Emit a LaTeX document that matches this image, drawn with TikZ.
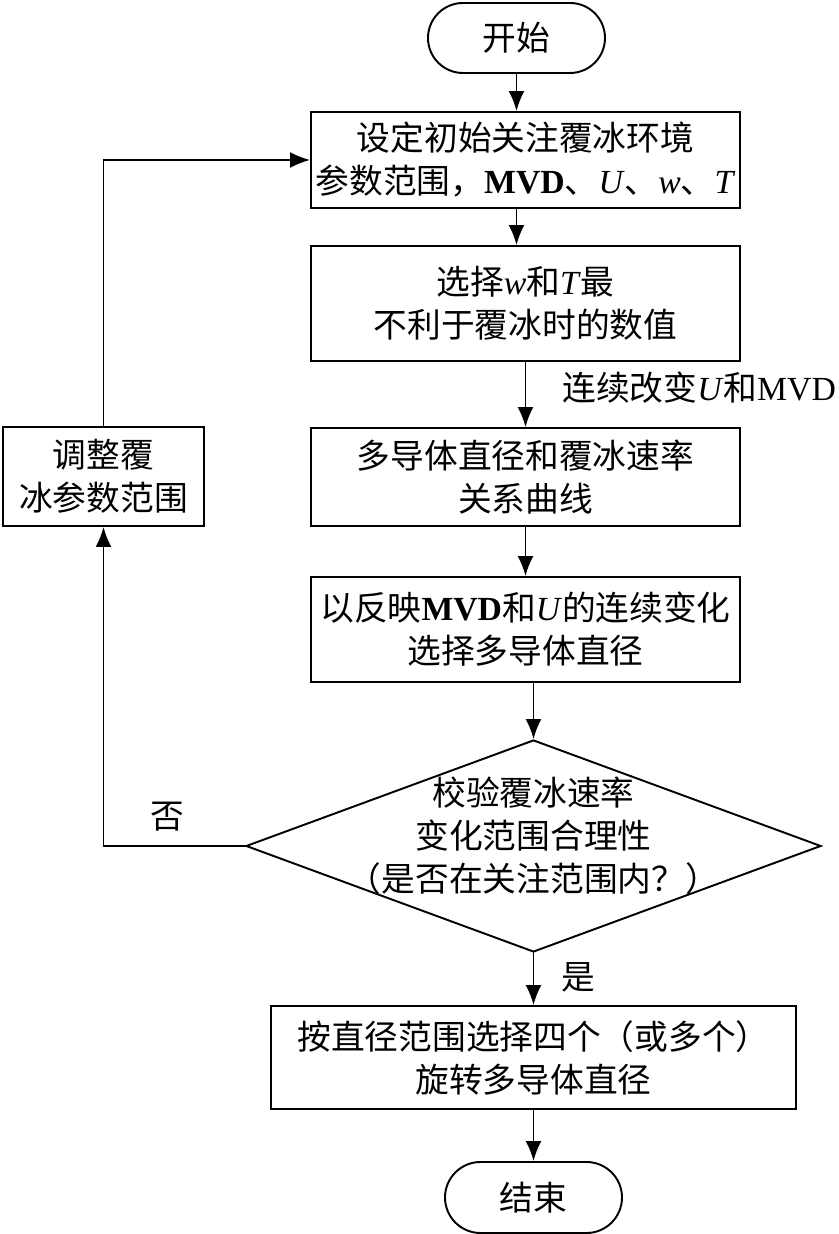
\documentclass[tikz,border=0pt]{standalone}
\usepackage{fontspec}
\setmainfont{Noto Sans CJK SC}
\newfontfamily\tnr{Liberation Serif}
\newcommand\lat[1]{{\tnr #1}}
\usetikzlibrary{arrows.meta,shapes.geometric}

\begin{document}
\begin{tikzpicture}[line cap=round,>={Latex[length=4mm,width=3.2mm]},
  every node/.style={inner sep=1.1pt,font=\fontsize{19.2}{24.5}\selectfont,align=center},
  proc/.style={draw,line width=1.1pt,minimum width=8.58cm},
  term/.style={draw,line width=1.1pt,rounded corners=0.7cm,minimum width=3.54cm,minimum height=1.4cm},
  flow/.style={->,line width=1.1pt}]
  \useasboundingbox (0,0) rectangle (16.78,24.68);
  \node[term] (start) at (10.33,23.92) {开始};
  \node[proc,minimum height=1.92cm] (box1) at (10.51,21.48) {设定初始关注覆冰环境\\参数范围，\lat{\textbf{MVD}}、\lat{\textit{U}}、\lat{\textit{w}}、\lat{\textit{T}}};
  \node[proc,minimum height=2.30cm] (box2) at (10.51,18.61) {选择\lat{\textit{w}}和\lat{\textit{T}}最\\不利于覆冰时的数值};
  \node[proc,minimum height=1.96cm] (box3) at (10.51,15.14) {多导体直径和覆冰速率\\关系曲线};
  \node[proc,minimum height=2.10cm] (box4) at (10.51,12.09) {以反映\lat{\textbf{MVD}}和\lat{\textit{U}}的连续变化\\选择多导体直径};
  \node[draw,diamond,line width=1.1pt,minimum width=11.5cm,minimum height=4.24cm,inner sep=0pt] (chk) at (10.67,7.76) {};
  \node (chktxt) at ([yshift=0.2cm]chk.center) {校验覆冰速率\\变化范围合理性\\（是否在关注范围内？）};
  \node[proc,minimum width=10.5cm,minimum height=2.06cm] (box5) at (10.67,3.53) {按直径范围选择四个（或多个）\\旋转多导体直径};
  \node[term,minimum height=1.42cm,rounded corners=0.71cm] (stop) at (10.67,0.73) {结束};
  \node[proc,minimum width=4.02cm,minimum height=1.98cm] (adj) at (2.07,15.15) {调整覆\\冰参数范围};
  % connectors
  \draw[flow] (start) -- (start |- box1.north);
  \draw[flow] (box1.south -| start) -- (box2.north -| start);
  \draw[flow] (box2) -- (box3);
  \draw[flow] (box3) -- (box4);
  \draw[flow] (box4.south -| chk.north) -- (chk.north);
  \draw[flow] (chk) -- (box5);
  \draw[flow] (box5) -- (stop);
  \draw[flow] (chk.west) -| (adj);
  \draw[flow] (adj) |- (box1);
  % labels
  \node[anchor=west] (vary) at (11.2,16.92) {连续改变\lat{\textit{U}}和\lat{MVD}};
  \node (no) at (3.34,8.34) {否};
  \node (yes) at (11.56,5.14) {是};
\end{tikzpicture}
\end{document}
